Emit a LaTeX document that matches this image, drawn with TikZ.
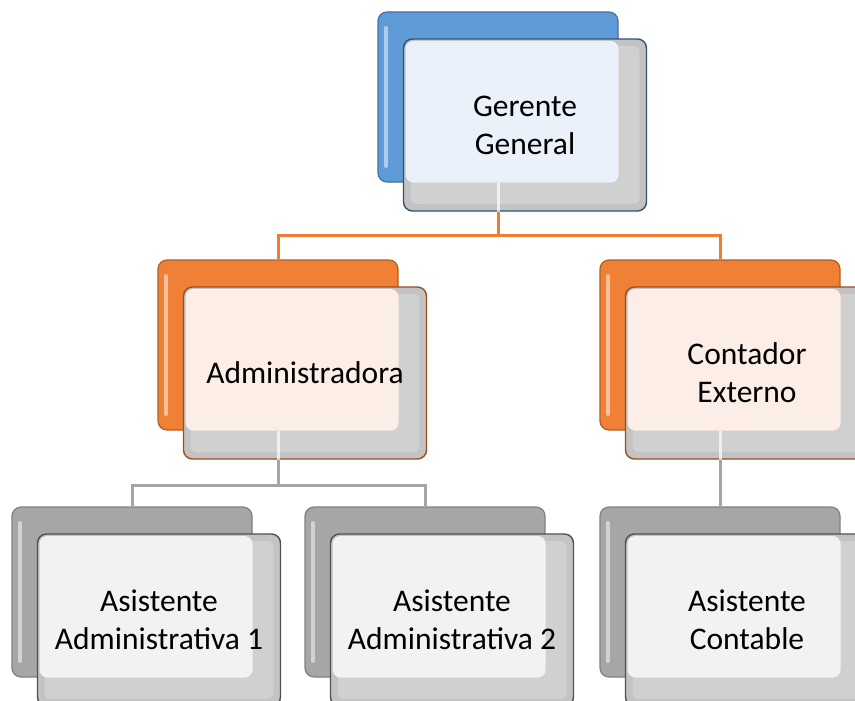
\documentclass[tikz,border=0pt]{standalone}
\usepackage{fontspec}
\setmainfont{Carlito}
\definecolor{bluebox}{HTML}{5F9BD6}
\definecolor{blueedge}{HTML}{41719C}
\definecolor{bluerim}{HTML}{2F5376}
\definecolor{bluetint}{HTML}{EAF1FA}
\definecolor{orangebox}{HTML}{EF8036}
\definecolor{orangeedge}{HTML}{B35D22}
\definecolor{orangerim}{HTML}{9C4E1C}
\definecolor{orangetint}{HTML}{FCEEE6}
\definecolor{graybox}{HTML}{A6A6A6}
\definecolor{grayedge}{HTML}{808080}
\definecolor{grayrim}{HTML}{505050}
\definecolor{graytint}{HTML}{F2F2F2}
\definecolor{frontgray}{HTML}{C3C3C3}
\definecolor{frontlight}{HTML}{D0D0D0}
\definecolor{orangeline}{HTML}{ED7D31}
\definecolor{grayline}{HTML}{A5A5A5}
\begin{document}
\begin{tikzpicture}[x=1pt, y=-1pt,
  back/.style={rectangle, rounded corners=9pt, minimum width=240pt, minimum height=170pt,
    inner sep=0pt, line width=1.2pt,
    path picture={\draw[white, opacity=.5, line width=4pt, line cap=round]
      ([shift={(8pt,-16pt)}]path picture bounding box.north west) --
      ([shift={(8pt,16pt)}]path picture bounding box.south west);}},
  front/.style={rectangle, rounded corners=9pt, minimum width=243pt, minimum height=172pt,
    inner sep=0pt, line width=1.4pt, fill=frontgray, align=center,
    font=\fontsize{31.5}{38}\selectfont},
  link/.style={line width=3pt}]
  \clip (0,0) rectangle (855,701);

  % back cards
  \foreach \n/\x/\y/\col in {gg/498/97/blue, adm/278/345/orange, cont/720/345/orange,
      as1/132/592/gray, as2/425/592/gray, ac/720/592/gray}
    \node[back, fill=\col box, draw=\col edge] (\n) at (\x,\y) {};

  % connectors
  \coordinate (topbus) at (498,235);
  \coordinate (admbus) at (278,485);
  \begin{scope}[link, orangeline]
    \draw (gg.south) -- (topbus) -| (adm.north);
    \draw (topbus) -| (cont.north);
  \end{scope}
  \begin{scope}[link, grayline]
    \draw (adm.south) -- (admbus) -| (as1.north);
    \draw (admbus) -| (as2.north);
    \draw (cont.south) -- (ac.north);
  \end{scope}

  % front cards with text
  \foreach \n/\x/\y/\col/\txt in {gg/498/97/blue/{Gerente\\General},
      adm/278/345/orange/Administradora, cont/720/345/orange/{Contador\\Externo},
      as1/132/592/gray/{Asistente\\Administrativa 1}, as2/425/592/gray/{Asistente\\Administrativa 2},
      ac/720/592/gray/{Asistente\\Contable}}
    \node[front, draw=\col rim, path picture={
        \fill[frontlight, rounded corners=6pt]
          ([shift={(7pt,-7pt)}]path picture bounding box.north west) rectangle
          ([shift={(-7pt,7pt)}]path picture bounding box.south east);
        \fill[\col tint, rounded corners=8pt]
          ([shift={(2pt,-2pt)}]path picture bounding box.north west) rectangle (\n.south east);
      }] (f\n) at ({\x+27},{\y+28}) {\txt};

  % connector ends seen through the front cards
  \foreach \n in {gg, adm, cont}
    \draw[link, white, opacity=.7] (\n.south) -- (\n.south |- f\n.south);
\end{tikzpicture}
\end{document}
